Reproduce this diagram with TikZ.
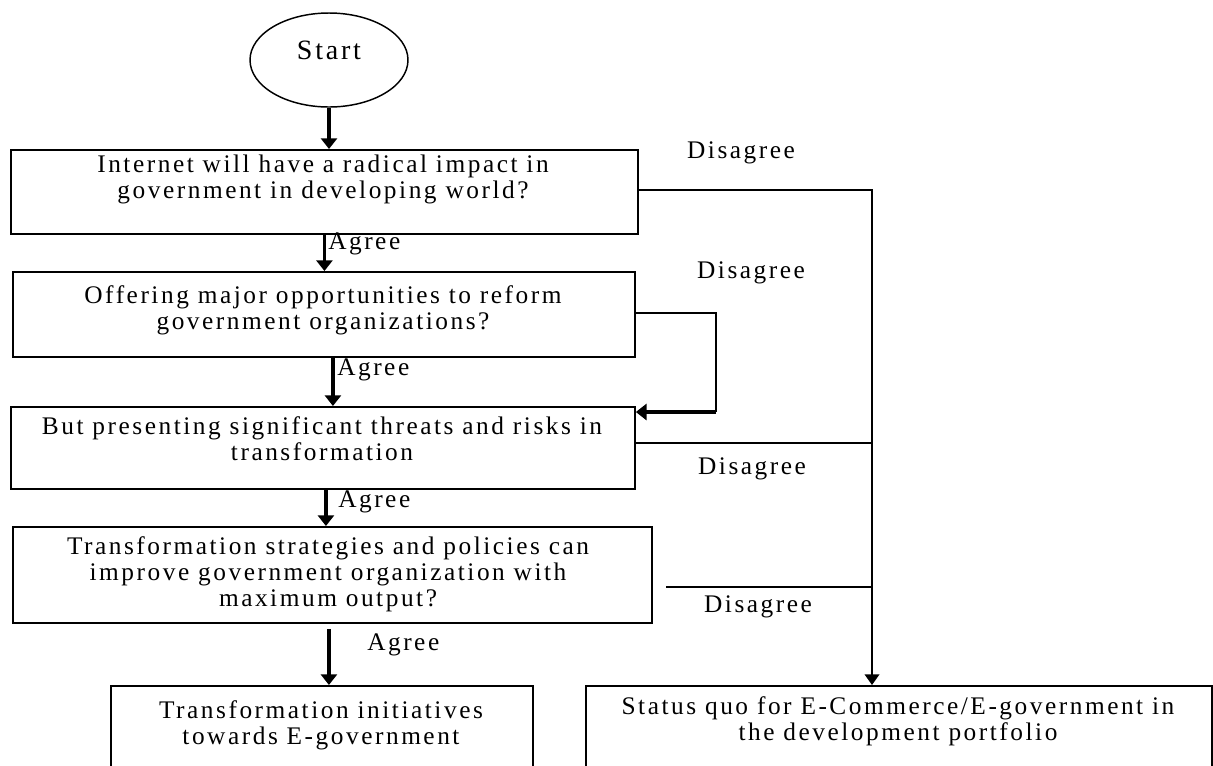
\documentclass[tikz,border=0pt]{standalone}
\usepackage{fontspec}
\setmainfont{Liberation Serif}[LetterSpace=10]
\usetikzlibrary{arrows.meta,shapes.geometric}
\newcommand\pxu{0.75pt}
\begin{document}
\begin{tikzpicture}[x=0.75pt, y=-0.75pt,
  box/.style={draw, line width=1.4pt, inner sep=0pt, anchor=north west},
  lbl/.style={font=\fontsize{19}{19.5}\selectfont, align=center, inner sep=0pt},
  flow/.style={line width=2.8pt, -{Triangle[length=8pt,width=12pt]}},
  link/.style={line width=1.2pt},
  linkarrow/.style={link, -{Triangle[length=8pt,width=11pt]}}]
\useasboundingbox (0,0) rectangle (1213,765);
\fill[white] (0,0) rectangle (1213,765);
\clip (0,0) rectangle (1213,765);

% start terminal
\node[draw, ellipse, line width=1.1pt, minimum width={158*\pxu}, minimum height={94*\pxu}, inner sep=0pt] (start) at (329,60) {};
\node[lbl, font=\fontsize{21}{24}\selectfont] (starttext) at (329,50) {Start};

% decision boxes
\node[box, minimum width={627*\pxu}, minimum height={84*\pxu}] (b1) at (10,149) {};
\node[box, minimum width={622*\pxu}, minimum height={85*\pxu}] (b2) at (12,271) {};
\node[box, minimum width={624*\pxu}, minimum height={82*\pxu}] (b3) at (10,406) {};
\node[box, minimum width={639*\pxu}, minimum height={96*\pxu}] (b4) at (12,526) {};
\node[box, minimum width={422*\pxu}, minimum height={120*\pxu}] (b5) at (110,685) {};
\node[box, minimum width={626*\pxu}, minimum height={120*\pxu}] (b6) at (585,685) {};

\node[lbl] (b1t) at (323,179) {Internet will have a radical impact in\\government in developing world?};
\node[lbl] (b2t) at (323,310) {Offering major opportunities to reform\\government organizations?};
\node[lbl] (b3t) at (322,439) {But presenting significant threats and risks in\\transformation};
\node[lbl] (b4t) at (328,574) {Transformation strategies and policies can\\improve government organization with\\maximum output?};
\node[lbl] (b5t) at (321,725) {Transformation initiatives\\towards E-government};
\node[lbl] (b6t) at (898,721) {Status quo for E-Commerce/E-government in\\the development portfolio};

% agree path
\draw[flow] (start.south) -- (start.south |- b1.north);
\draw[flow] (b1.south) -- (b1.south |- b2.north);
\draw[flow] ([xshift={9*\pxu}]b2.south) -- ([xshift={9*\pxu}]b2.south |- b3.north);
\draw[flow] ([xshift={3*\pxu}]b3.south) -- ([xshift={3*\pxu}]b3.south |- b4.north);
\draw[flow] ([xshift={-3.5*\pxu},yshift={-5*\pxu}]b4.south) -- ([xshift={-3.5*\pxu}]b4.south |- b5.north);

\node[lbl, anchor=west] (a1) at (328,244) {Agree};
\node[lbl, anchor=west] (a2) at (337,370) {Agree};
\node[lbl, anchor=west] (a3) at (338,502) {Agree};
\node[lbl, anchor=west] (a4) at (367,645) {Agree};

% disagree paths
\coordinate (bus) at (872,189);
\coordinate (loop) at (716,412);
\coordinate (d4start) at (666,587);
\draw[linkarrow] ([yshift={2*\pxu}]b1.east) -- ([yshift={2*\pxu}]b1.east -| bus) -- (bus |- b6.north);
\draw[link] ([yshift={1.5*\pxu}]b2.east) -- ([yshift={1.5*\pxu}]b2.east -| loop) -- (loop);
\draw[flow] (loop) -- (loop -| b3.east);
\draw[link] ([yshift={5*\pxu}]b3.east) -- ([yshift={5*\pxu}]b3.east -| bus);
\draw[link] (d4start) -- (d4start -| bus);

\node[lbl] (d1) at (741,153) {Disagree};
\node[lbl] (d2) at (751,273) {Disagree};
\node[lbl] (d3) at (752,469) {Disagree};
\node[lbl] (d4) at (758,607) {Disagree};
\end{tikzpicture}
\end{document}
